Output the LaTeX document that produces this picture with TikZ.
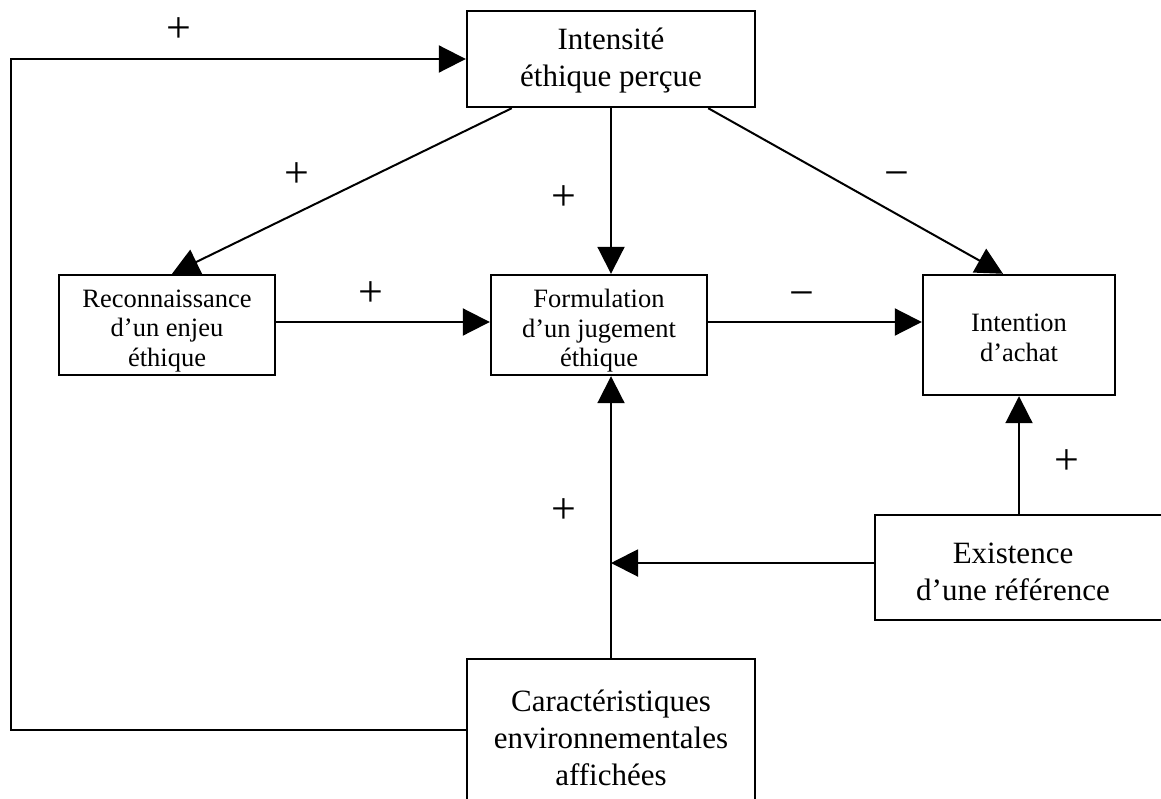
\documentclass[tikz,border=0pt]{standalone}
\usepackage{fontspec}
\setmainfont{Liberation Serif}
\usetikzlibrary{arrows.meta}
\tikzset{
  box/.style={draw, line width=2.4pt, rectangle, inner sep=0pt},
  conn/.style={line width=2pt, -{Triangle[length=27pt,width=27pt]}},
  sign/.style={font=\fontsize{44}{44}\selectfont, inner sep=0pt},
  smalltxt/.style={font=\fontsize{26.5}{29.5}\selectfont, align=center, inner sep=0pt},
  bigtxt/.style={font=\fontsize{31}{37}\selectfont, align=center, inner sep=0pt}
}
\begin{document}
\begin{tikzpicture}[x=1pt,y=-1pt]
\clip (0,0) rectangle (1161,798);
\fill[white] (0,0) rectangle (1161,798);
% boxes
\node[box, minimum width=288pt, minimum height=96pt] (intens) at (611,59) {};
\node[bigtxt] (intenstxt) at (611,61) {Intensité\\éthique perçue};
\node[box, minimum width=216pt, minimum height=100pt] (recon) at (167,325) {};
\node[smalltxt] (recontxt) at (167,331) {Reconnaissance\\d’un enjeu\\éthique};
\node[box, minimum width=216pt, minimum height=100pt] (form) at (599,325) {};
\node[smalltxt] (formtxt) at (599,331) {Formulation\\d’un jugement\\éthique};
\node[box, minimum width=192pt, minimum height=120pt] (intent) at (1019,335) {};
\node[smalltxt] (intenttxt) at (1019,338) {Intention\\d’achat};
\node[box, minimum width=300pt, minimum height=105pt] (exist) at (1025,567.5) {};
\node[bigtxt] (existtxt) at (1013,572) {Existence\\d’une référence};
\node[box, minimum width=288pt, minimum height=154pt] (carac) at (611,736) {};
\node[bigtxt] (caractxt) at (611,738) {Caractéristiques\\environnementales\\affichées};
% connectors
\coordinate (lc1) at (11,730);
\coordinate (lc2) at (11,59);
\draw[conn] ([yshift=6pt]carac.west) -- (lc1) -- (lc2) -- (intens.west);
\draw[conn] ([xshift=46pt]intens.south west) -- ([xshift=5pt]recon.north);
\draw[conn] (intens.south) -- (intens.south |- form.north);
\draw[conn] ([xshift=-48pt]intens.south east) -- ([xshift=-16pt]intent.north);
\draw[conn] ([yshift=3pt]recon.east) -- ([yshift=3pt]form.west);
\draw[conn] ([yshift=3pt]form.east) -- ([yshift=3pt]form.east -| intent.west);
\draw[conn] (exist.north -| intent.south) -- (intent.south);
\coordinate (jn) at (611,563);
\draw[conn] ([yshift=4.5pt]exist.west) -- (jn);
\draw[conn] (carac.north) -- (carac.north |- form.south);
% signs
\node[sign] (s1) at (179,30) {+};
\node[sign] (s2) at (297,175) {+};
\node[sign] (s3) at (564,198) {+};
\node[sign] (s4) at (897,180) {−};
\node[sign] (s5) at (371,294) {+};
\node[sign] (s6) at (802,300) {−};
\node[sign] (s7) at (1067,462) {+};
\node[sign] (s8) at (564,511) {+};
\end{tikzpicture}
\end{document}
